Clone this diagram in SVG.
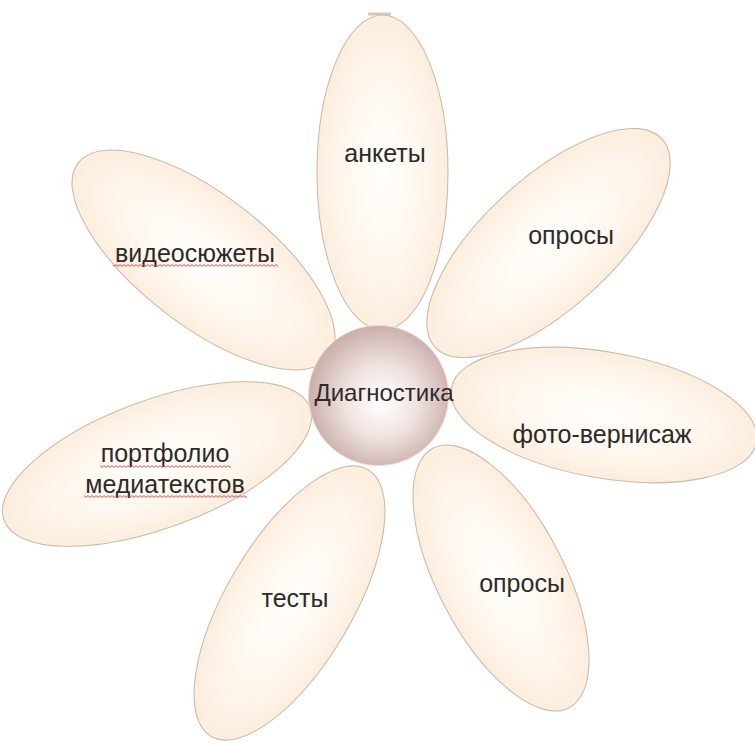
<svg xmlns="http://www.w3.org/2000/svg" width="755" height="744" viewBox="0 0 755 744">
  <style>
    .petal { fill: url(#petalFill); stroke: #cbbbab; stroke-width: 1.1; }
    .lbl { font-family: "Liberation Sans", Arial, sans-serif; font-size: 25px; fill: #2e2a28; text-anchor: middle; }
    .wave { fill: url(#wave); }
  </style>
  <defs>
    <radialGradient id="petalFill" cx="50%" cy="50%" r="55%">
      <stop offset="0%" stop-color="#fffefc"/>
      <stop offset="55%" stop-color="#fef7ee"/>
      <stop offset="100%" stop-color="#fcebd9"/>
    </radialGradient>
    <radialGradient id="centerFill" cx="52%" cy="52%" r="55%" fx="52%" fy="56%">
      <stop offset="0%" stop-color="#ffffff"/>
      <stop offset="45%" stop-color="#f0e4e2"/>
      <stop offset="100%" stop-color="#c7a9a5"/>
    </radialGradient>
    <pattern id="wave" x="0" y="0" width="4" height="3" patternUnits="userSpaceOnUse">
      <path d="M0 0.6 L2 2.4 L4 0.6" fill="none" stroke="#e23a3a" stroke-width="0.9"/>
    </pattern>
  </defs>

  <rect x="0" y="0" width="755" height="744" fill="#ffffff"/>
  <rect x="368" y="12.5" width="23" height="3" fill="#d3c8bd"/>

  <g id="petal-anketi">
    <ellipse class="petal" cx="382.5" cy="172.5" rx="65.5" ry="157.5"/>
    <text class="lbl" x="385" y="162">анкеты</text>
  </g>
  <g id="petal-oprosy-1">
    <ellipse class="petal" cx="0" cy="0" rx="154" ry="65" transform="translate(548.5 243) rotate(-42.5)"/>
    <text class="lbl" x="571" y="244">опросы</text>
  </g>
  <g id="petal-foto">
    <ellipse class="petal" cx="0" cy="0" rx="155" ry="63" transform="translate(604 415) rotate(10)"/>
    <text class="lbl" x="602" y="443">фото-вернисаж</text>
  </g>
  <g id="petal-oprosy-2">
    <ellipse class="petal" cx="0" cy="0" rx="63" ry="146.5" transform="translate(501 578) rotate(-27.7)"/>
    <text class="lbl" x="522" y="592">опросы</text>
  </g>
  <g id="petal-testy">
    <ellipse class="petal" cx="0" cy="0" rx="63" ry="154.7" transform="translate(289.5 603) rotate(30.5)"/>
    <text class="lbl" x="295" y="607">тесты</text>
  </g>
  <g id="petal-portfolio">
    <ellipse class="petal" cx="0" cy="0" rx="163" ry="64" transform="translate(157 464) rotate(-20.2)"/>
    <text class="lbl" x="165" y="462">портфолио</text>
    <text class="lbl" x="165" y="493">медиатекстов</text>
    <rect class="wave" x="100" y="465" width="131" height="3"/>
    <rect class="wave" x="84" y="495" width="163" height="3"/>
  </g>
  <g id="petal-video">
    <ellipse class="petal" cx="0" cy="0" rx="158.6" ry="65" transform="translate(203.5 260) rotate(37.8)"/>
    <text class="lbl" x="195" y="262">видеосюжеты</text>
    <rect class="wave" x="113" y="264" width="165" height="3"/>
  </g>

  <g id="center-diagnostika">
    <circle cx="378.5" cy="395.5" r="70" fill="url(#centerFill)" stroke="#eadcd8" stroke-width="1"/>
    <text class="lbl" x="384" y="401" style="font-size:24px">Диагностика</text>
  </g>
</svg>
